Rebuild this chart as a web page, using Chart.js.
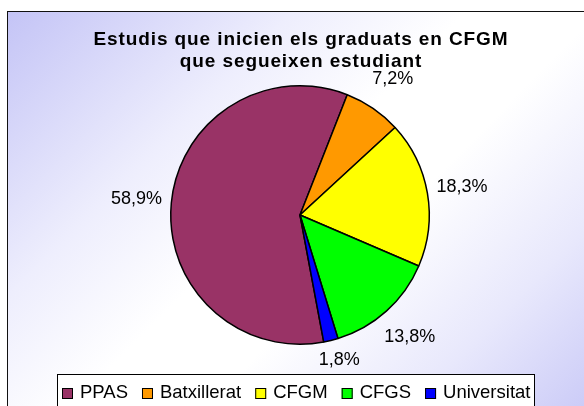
<!DOCTYPE html>
<html>
<head>
<meta charset="utf-8">
<script src="https://cdn.jsdelivr.net/npm/chart.js@4.4.1/dist/chart.umd.min.js"></script>
<style>
  html, body { margin: 0; padding: 0; background: #fff; }
  #wrap { position: relative; width: 584px; height: 406px; overflow: hidden; }
  #frame {
    position: absolute; left: 7px; top: 11px; width: 600px; height: 420px;
    border-top: 1px solid #111; border-left: 1px solid #111;
    background: linear-gradient(135deg, #c4c4f6 0%, #eeeefd 28%, #ffffff 45%, #ffffff 58%, #e8e8fc 78%, #c4c4f6 100%);
  }
  #chart { position: absolute; left: 0; top: 0; }
</style>
</head>
<body>
<div id="wrap">
  <div id="frame"></div>
  <canvas id="chart" width="584" height="406"></canvas>
</div>
<script>
// Data
const categories = ['PPAS', 'Batxillerat', 'CFGM', 'CFGS', 'Universitat'];
const percentages = [58.9, 7.2, 18.3, 13.8, 1.8];
const sliceColors = ['#993366', '#ff9900', '#ffff00', '#00ff00', '#0000ff'];
const titleLines = ['Estudis que inicien els graduats en CFGM', 'que segueixen estudiant'];

const FONT = '"Liberation Sans", Arial, sans-serif';
const LEGEND_TOP = 374;

// percentage labels outside each slice
const sliceLabels = {
    id: 'sliceLabels',
    afterDatasetsDraw(chart) {
        const ctx = chart.ctx;
        const meta = chart.getDatasetMeta(0);
        ctx.save();
        ctx.font = '18px ' + FONT;
        ctx.fillStyle = '#000';
        ctx.textAlign = 'center';
        ctx.textBaseline = 'middle';
        meta.data.forEach((arc, i) => {
            const mid = (arc.startAngle + arc.endAngle) / 2;
            const r = arc.outerRadius + 35;
            const x = arc.x + Math.cos(mid) * r;
            // keep labels clear of the legend box
            const y = Math.min(arc.y + Math.sin(mid) * r, LEGEND_TOP - 14);
            ctx.fillText(percentages[i].toFixed(1).replace('.', ',') + '%', x, y);
        });
        ctx.restore();
    }
};

// title and boxed legend in the Excel style
const titleAndLegend = {
    id: 'titleAndLegend',
    afterDraw(chart) {
        const ctx = chart.ctx;
        ctx.save();
        ctx.fillStyle = '#000';
        ctx.textAlign = 'center';
        ctx.textBaseline = 'alphabetic';
        ctx.font = 'bold 19px ' + FONT;
        ctx.letterSpacing = '0.9px';
        ctx.fillText(titleLines[0], 301, 45);
        ctx.fillText(titleLines[1], 301, 67);
        ctx.letterSpacing = '0px';

        // legend box
        ctx.fillStyle = '#fff';
        ctx.fillRect(57, LEGEND_TOP, 477, 40);
        ctx.strokeStyle = '#000';
        ctx.lineWidth = 1;
        ctx.strokeRect(57.5, LEGEND_TOP + 0.5, 477, 40);

        ctx.font = '18.5px ' + FONT;
        ctx.textAlign = 'left';
        const box = 11, gap = 7, spacing = 14;
        const widths = categories.map(c => ctx.measureText(c).width);
        const total = widths.reduce((s, w) => s + box + gap + w, 0) + spacing * (categories.length - 1);
        let x = Math.round(296 - total / 2);
        categories.forEach((c, i) => {
            ctx.fillStyle = sliceColors[i];
            ctx.fillRect(x, 388, box, box);
            ctx.strokeStyle = '#000';
            ctx.strokeRect(x + 0.5, 388.5, box - 1, box - 1);
            ctx.fillStyle = '#000';
            ctx.fillText(c, x + box + gap, 398);
            x += box + gap + widths[i] + spacing;
        });
        ctx.restore();
    }
};

new Chart(document.getElementById('chart'), {
    type: 'pie',
    data: {
        labels: categories,
        datasets: [{
            data: percentages,
            backgroundColor: sliceColors,
            borderColor: '#000',
            borderWidth: 1.5
        }]
    },
    options: {
        responsive: false,
        animation: false,
        rotation: 169.4,
        layout: { padding: { left: 170, right: 154, top: 85, bottom: 61 } },
        plugins: {
            legend: { display: false },
            title: { display: false },
            tooltip: { enabled: false }
        }
    },
    plugins: [sliceLabels, titleAndLegend]
});
</script>
</body>
</html>
